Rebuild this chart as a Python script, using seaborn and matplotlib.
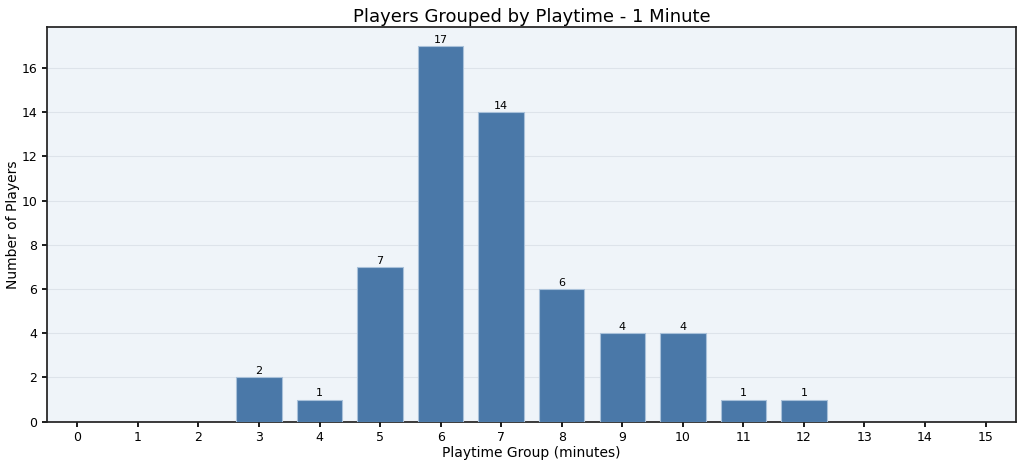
import matplotlib as mpl

mpl.use("Agg")

import matplotlib.pyplot as plt
import pandas as pd
import seaborn as sns

sns.set_theme(style="ticks", rc={
    "text.color": "black",
    "axes.labelcolor": "black",
    "xtick.color": "black",
    "ytick.color": "black",
    "axes.edgecolor": "#222222",
    "xtick.major.size": 3.5,
    "ytick.major.size": 3.5,
    "xtick.major.pad": 3.5,
    "ytick.major.pad": 3.5,
})
plt.rcParams["font.family"] = ["DejaVu Sans"]

groups = list(range(16))
players = [0, 0, 0, 2, 1, 7, 17, 14, 6, 4, 4, 1, 1, 0, 0, 0]

df = pd.DataFrame({"group": groups, "players": players})

fig, ax = plt.subplots(figsize=(10.24, 4.67), dpi=100)
ax.set_facecolor("#eff4f9")
sns.barplot(data=df, x="group", y="players", color="#4a78a8", saturation=1,
            width=0.75, edgecolor="#a9c1da", linewidth=0.8, ax=ax, zorder=3)
for p in ax.patches:
    if p.get_height() == 0:
        p.set_linewidth(0)
ax.grid(axis="y", color="#dde3ea", linewidth=0.8, zorder=0)
ax.set_axisbelow(True)

for i, v in enumerate(players):
    if v > 0:
        ax.text(i, v + 0.05, str(v), ha="center", va="bottom", fontsize=8)

ax.set_ylim(0, 17.85)
ax.set_yticks(range(0, 18, 2))
ax.set_xlim(-0.5, 15.5)
ax.set_title("Players Grouped by Playtime - 1 Minute", fontsize=13, pad=4)
ax.set_xlabel("Playtime Group (minutes)", fontsize=10, labelpad=1)
ax.set_ylabel("Number of Players", fontsize=10, labelpad=1)
ax.tick_params(labelsize=9)

fig.subplots_adjust(left=0.046, right=0.992, top=0.942, bottom=0.097)
fig.savefig("out.png", dpi=100)
